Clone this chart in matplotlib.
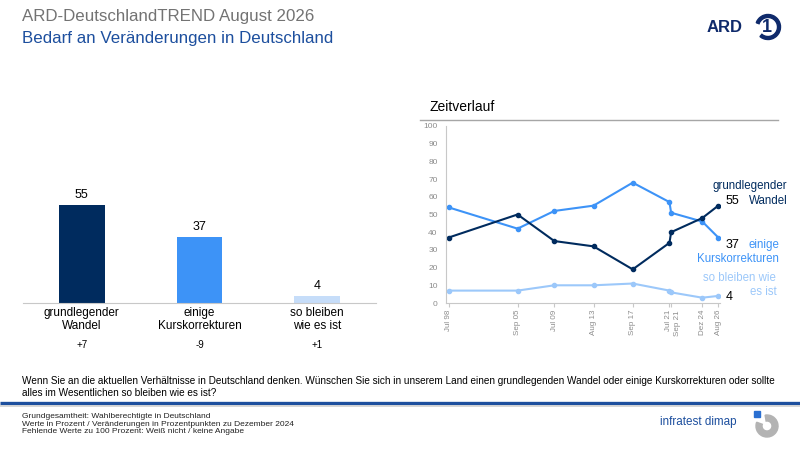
import numpy as np
import pandas as pd
import matplotlib
matplotlib.use('Agg')
import matplotlib.pyplot as plt
import matplotlib.dates as mdates
import matplotlib.transforms as mtransforms
from matplotlib.patches import Wedge, Rectangle

plt.rcParams['font.family'] = ['Liberation Sans', 'DejaVu Sans']

# aktuelle Werte (August 2026)
kategorien = ['grundlegender\nWandel', 'einige\nKurskorrekturen', 'so bleiben\nwie es ist']
werte = [55, 37, 4]
veraenderung = ['+7', '-9', '+1']

# Zeitverlauf
termine = ['1998-07-15', '2005-09-15', '2009-07-15', '2013-08-15', '2017-09-15',
           '2021-07-15', '2021-09-15', '2024-12-15', '2026-08-15']
termin_labels = ['Jul 98', 'Sep 05', 'Jul 09', 'Aug 13', 'Sep 17',
                 'Jul 21', 'Sep 21', 'Dez 24', 'Aug 26']
wandel = [37, 50, 35, 32, 19, 34, 40, 48, 55]
korrekturen = [54, 42, 52, 55, 68, 57, 51, 46, 37]
bleiben = [7, 7, 10, 10, 11, 7, 6, 3, 4]

navy = '#002b5e'
blau = '#3d93f7'
hell = '#c6ddf9'
linie_hell = '#9cc8fa'
grau = '#8c8c8c'
ard_blau = '#1d4f9e'

fig = plt.figure(figsize=(8, 4.5), dpi=100)

# Hintergrund-Achse in Pixeln fuer Kopf, Fuss und Logos
deco = fig.add_axes([0, 0, 1, 1])
deco.set_xlim(0, 800)
deco.set_ylim(450, 0)
deco.axis('off')

deco.text(22, 17, 'ARD-DeutschlandTREND August 2026', fontsize=12.2, color='#737373',
          va='center', ha='left')
deco.text(22, 39, 'Bedarf an Veränderungen in Deutschland', fontsize=12.2, color=ard_blau,
          va='center', ha='left')

# ARD Logo
deco.text(743, 28, 'ARD', fontsize=12, fontweight='bold', color='#0f2a6b', ha='right', va='center')
deco.add_patch(Wedge((768, 27), 12.5, 200, 490, width=3, color='#0f2a6b'))
deco.text(767, 27.5, '1', fontsize=13, fontweight='bold', color='#0f2a6b', ha='center', va='center')

# Zeitverlauf Ueberschrift
deco.text(430, 107, 'Zeitverlauf', fontsize=10, color='black', va='center')
deco.plot([420, 778], [120, 120], color='#a6a6a6', lw=1)

# Frage
deco.text(22, 387, 'Wenn Sie an die aktuellen Verhältnisse in Deutschland denken. Wünschen Sie sich in unserem Land '
          'einen grundlegenden Wandel oder einige Kurskorrekturen oder sollte\n'
          'alles im Wesentlichen so bleiben wie es ist?', fontsize=7.2, va='center', linespacing=1.2)

# Trennlinien
deco.plot([0, 800], [403, 403], color=ard_blau, lw=2.4, solid_capstyle='butt')
deco.plot([0, 800], [406, 406], color='#cfcfcf', lw=1.2, solid_capstyle='butt')

# Fusszeile
deco.text(22, 424, 'Grundgesamtheit: Wahlberechtigte in Deutschland\n'
          'Werte in Prozent / Veränderungen in Prozentpunkten zu Dezember 2024\n'
          'Fehlende Werte zu 100 Prozent: Weiß nicht / keine Angabe',
          fontsize=6, va='center', linespacing=1.15, color='#222222')

# infratest dimap Logo
deco.text(736, 422, 'infratest dimap', fontsize=8.4, color=ard_blau, ha='right', va='center')
deco.add_patch(Wedge((767, 426), 11, -100, 200, width=6, color='#b3b3b3'))
deco.add_patch(Rectangle((754, 411), 6, 5.5, color='#2a6fd1'))

# Balkendiagramm
ax = fig.add_axes([23 / 800, 147 / 450, 353 / 800, 178 / 450])
x = np.arange(len(werte))
ax.bar(x, werte, width=0.39, color=[navy, blau, hell])
ax.set_xlim(-0.5, 2.5)
ax.set_ylim(0, 100)
for s in ['top', 'right', 'left']:
    ax.spines[s].set_visible(False)
ax.spines['bottom'].set_color('#c8c8c8')
ax.set_xticks([])
ax.set_yticks([])
ax.patch.set_alpha(0)
for i, v in enumerate(werte):
    ax.annotate(str(v), xy=(i, v), xytext=(0, 4), textcoords='offset pixels',
                ha='center', va='bottom', fontsize=9)
    ax.annotate(kategorien[i], xy=(i, 0), xytext=(0, -4), textcoords='offset pixels',
                ha='center', va='top', fontsize=8.5, linespacing=1.15)
    ax.annotate(veraenderung[i], xy=(i, 0), xytext=(0, -42), textcoords='offset pixels',
                ha='center', va='center', fontsize=7)

# Liniendiagramm
daten = pd.to_datetime(termine)
ax2 = fig.add_axes([446 / 800, 147 / 450, 274 / 800, 177 / 450])
ax2.plot(daten, bleiben, '-o', color=linie_hell, lw=1.5, ms=3)
ax2.plot(daten, korrekturen, '-o', color=blau, lw=1.5, ms=3)
ax2.plot(daten, wandel, '-o', color=navy, lw=1.5, ms=3)
ax2.set_xlim(pd.Timestamp('1998-04-01'), pd.Timestamp('2026-10-20'))
ax2.set_ylim(0, 100)
ax2.set_yticks(range(0, 101, 10))
ax2.set_xticks(daten)
ax2.set_xticklabels(termin_labels, rotation=90)
ax2.tick_params(axis='y', length=0, labelsize=6, labelcolor=grau, pad=6)
ax2.tick_params(axis='x', length=3, color='#c8c8c8', labelsize=5.8, labelcolor=grau, pad=2)
for s in ['top', 'right']:
    ax2.spines[s].set_visible(False)
for s in ['left', 'bottom']:
    ax2.spines[s].set_color('#c8c8c8')
ax2.patch.set_alpha(0)
# Jul 21 / Sep 21 auseinanderziehen
labs = ax2.get_xticklabels()
labs[5].set_transform(labs[5].get_transform() + mtransforms.Affine2D().translate(-1, 0))
labs[6].set_transform(labs[6].get_transform() + mtransforms.Affine2D().translate(6, 0))

# Beschriftung am Linienende
letzt = daten[-1]
enden = [
    (wandel[-1], navy, [('grundlegender', 787, 19.6), ('Wandel', 787, 4.6)], 5),
    (korrekturen[-1], blau, [('einige', 779, -7.5), ('Kurskorrekturen', 779, -21.5)], -7.5),
    (bleiben[-1], linie_hell, [('so bleiben wie', 776, 18), ('es ist', 776, 4)], -1),
]
x_end = 718
for wert, farbe, zeilen, dy_zahl in enden:
    ax2.annotate(str(wert), xy=(letzt, wert), xytext=(7, dy_zahl), textcoords='offset pixels',
                 ha='left', va='center', fontsize=9, annotation_clip=False)
    for txt, x_rechts, dy in zeilen:
        ax2.annotate(txt, xy=(letzt, wert), xytext=(x_rechts - x_end, dy), textcoords='offset pixels',
                     ha='right', va='center', fontsize=8.3, color=farbe, annotation_clip=False)

fig.savefig('out.png', dpi=100)
